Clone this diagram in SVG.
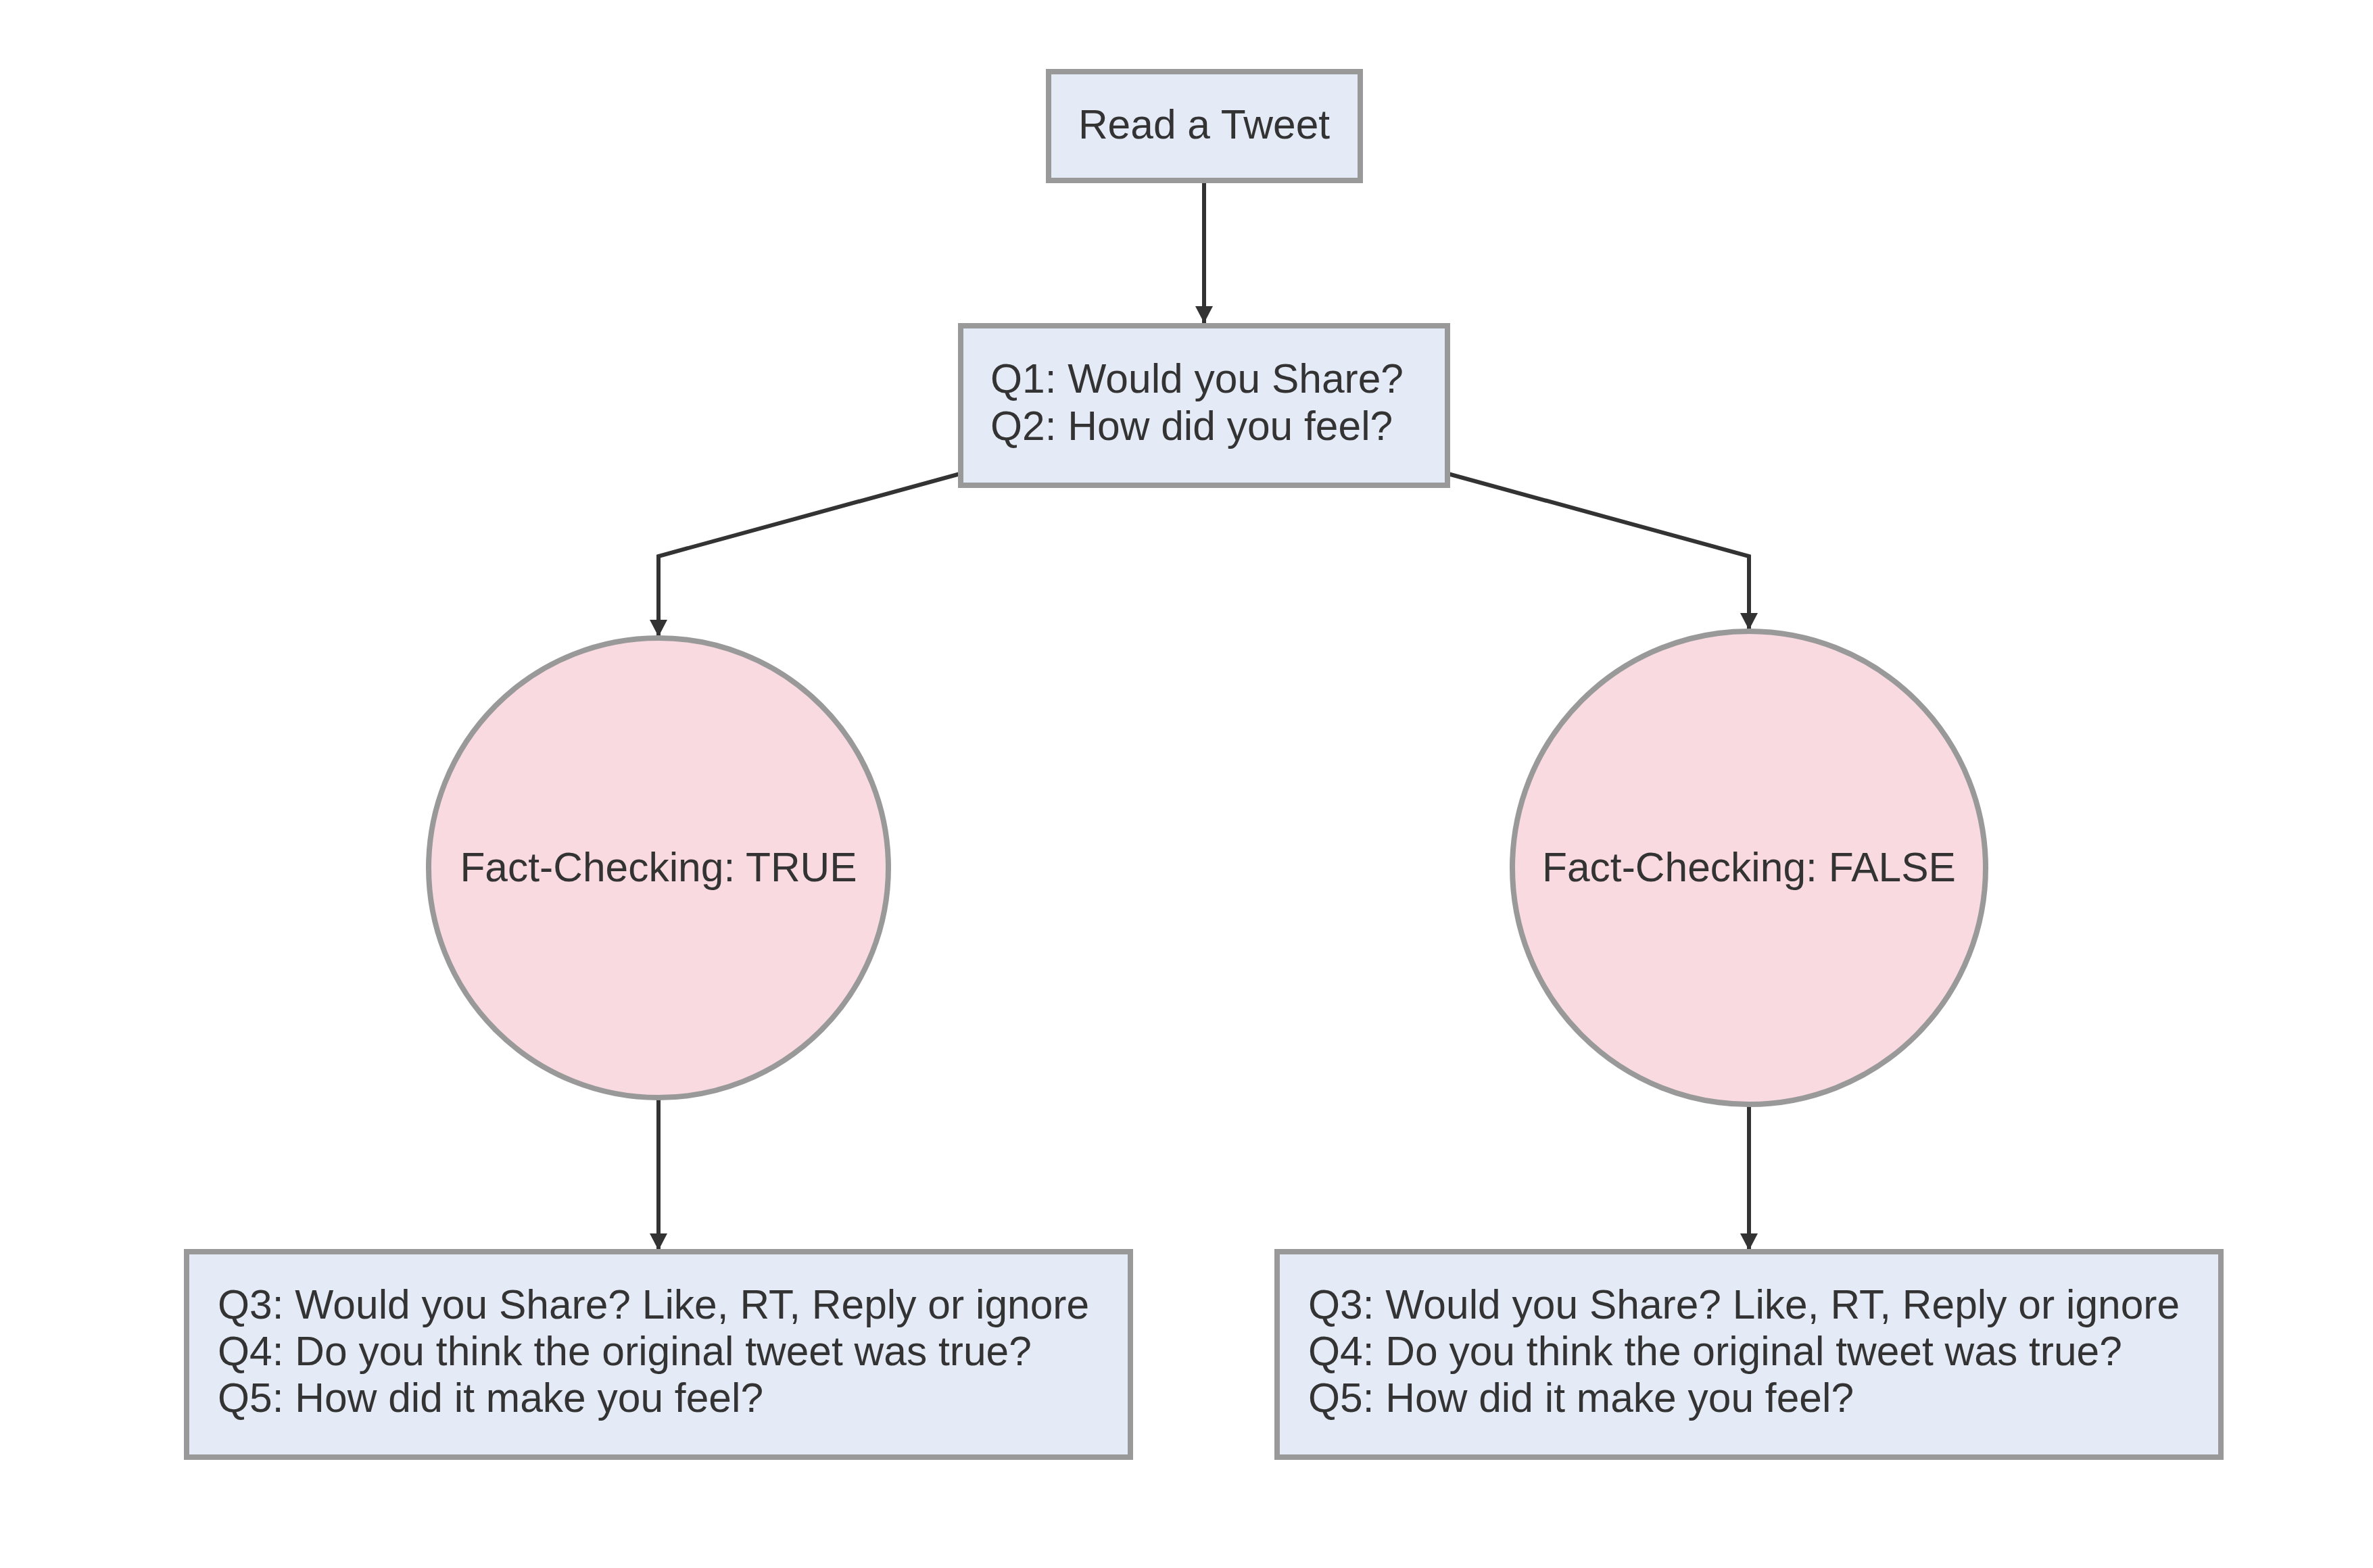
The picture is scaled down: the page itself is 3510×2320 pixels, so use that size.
<svg xmlns="http://www.w3.org/2000/svg" width="3510" height="2320" viewBox="0 0 3510 2320">
<style>
.box{fill:#E4EAF6;stroke:#999999;stroke-width:8}
.circ{fill:#F8DAE0;stroke:#999999;stroke-width:8}
.t{font-family:"Liberation Sans",Arial,Helvetica,sans-serif;font-size:60.5px;fill:#333333}
.edge{fill:none;stroke:#333333;stroke-width:6}
</style>
<defs>
<marker id="arrow" markerUnits="userSpaceOnUse" markerWidth="26" markerHeight="26" refX="25" refY="13" orient="auto">
<path d="M0,0 L25,13 L0,26 Z" fill="#333333"/>
</marker>
</defs>
<rect width="3510" height="2320" fill="#FFFFFF"/>
<g id="connectors">
<path class="edge" d="M1781,271 L1781,478" marker-end="url(#arrow)"/>
<path class="edge" d="M1420,701 L974,823 L974,942" marker-end="url(#arrow)"/>
<path class="edge" d="M2142,701 L2587,823 L2587,932" marker-end="url(#arrow)"/>
<path class="edge" d="M974,1626 L974,1850" marker-end="url(#arrow)"/>
<path class="edge" d="M2587,1636 L2587,1850" marker-end="url(#arrow)"/>
</g>
<g id="read">
<rect class="box" x="1551" y="106" width="461" height="161"/>
<text class="t" x="1781" y="205" text-anchor="middle">Read a Tweet</text>
</g>
<g id="q1">
<rect class="box" x="1421" y="482" width="720" height="236"/>
<text class="t" x="1465" y="581">Q1: Would you Share?</text>
<text class="t" x="1465" y="651">Q2: How did you feel?</text>
</g>
<g id="fc-true">
<circle class="circ" cx="974" cy="1284" r="340"/>
<text class="t" x="974" y="1304" text-anchor="middle">Fact-Checking: TRUE</text>
</g>
<g id="fc-false">
<circle class="circ" cx="2587" cy="1284" r="350"/>
<text class="t" x="2587" y="1304" text-anchor="middle">Fact-Checking: FALSE</text>
</g>
<g id="q3-true">
<rect class="box" x="276" y="1852" width="1396" height="304"/>
<text class="t" x="322" y="1951">Q3: Would you Share? Like, RT, Reply or ignore</text>
<text class="t" x="322" y="2020">Q4: Do you think the original tweet was true?</text>
<text class="t" x="322" y="2089">Q5: How did it make you feel?</text>
</g>
<g id="q3-false">
<rect class="box" x="1889" y="1852" width="1396" height="304"/>
<text class="t" x="1935" y="1951">Q3: Would you Share? Like, RT, Reply or ignore</text>
<text class="t" x="1935" y="2020">Q4: Do you think the original tweet was true?</text>
<text class="t" x="1935" y="2089">Q5: How did it make you feel?</text>
</g>
</svg>
